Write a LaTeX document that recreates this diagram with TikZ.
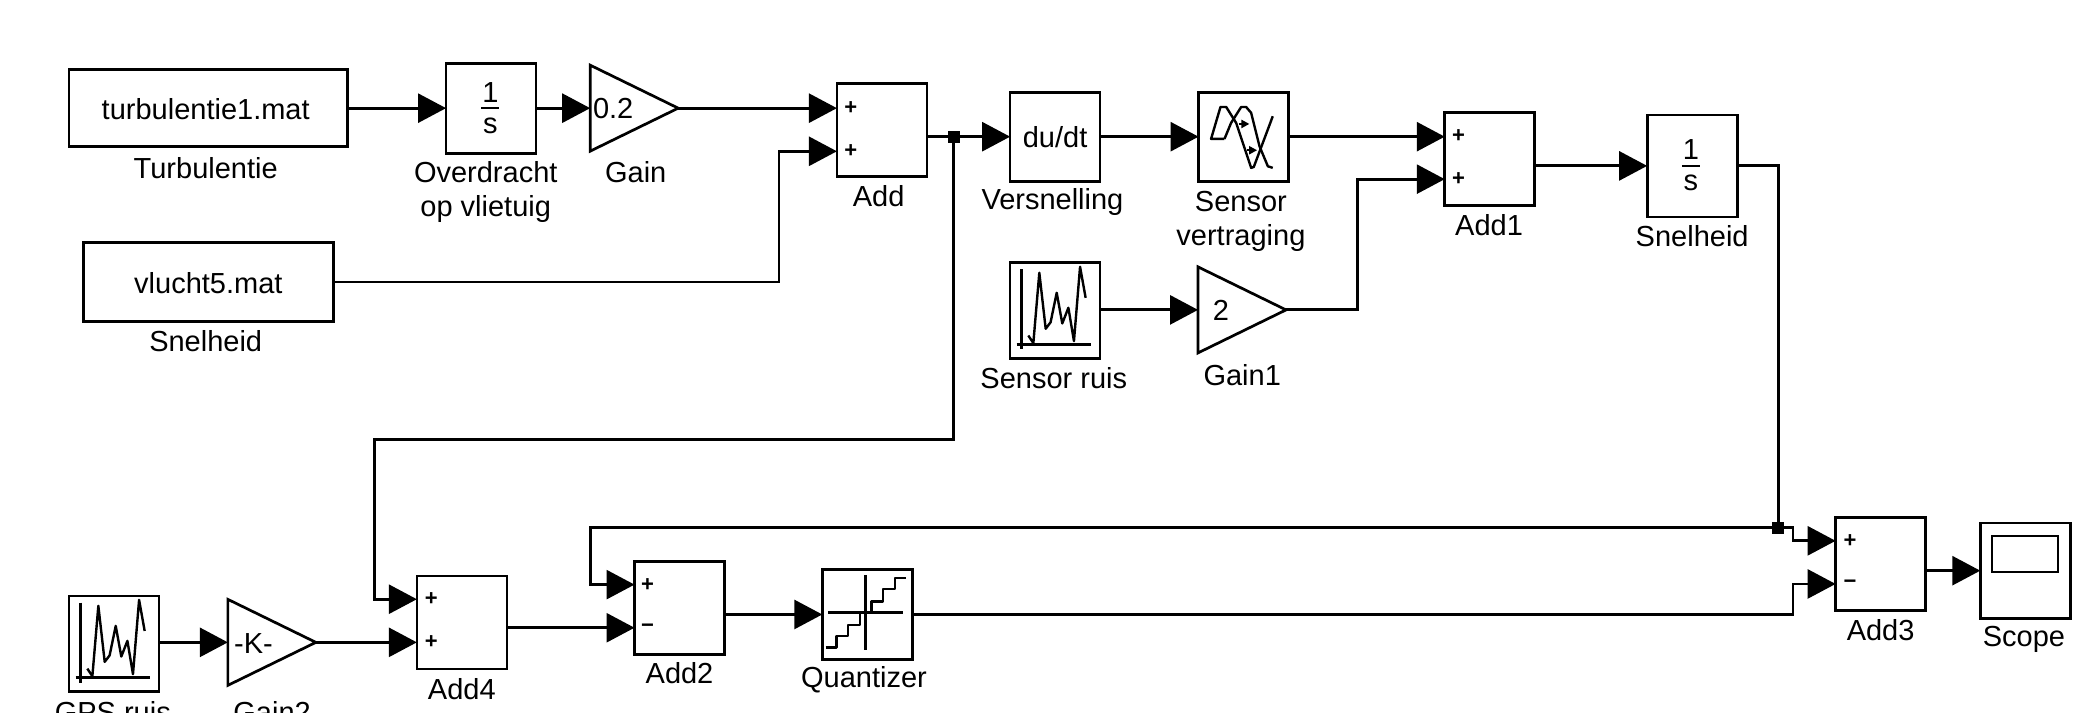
\documentclass[tikz,border=0pt]{standalone}
\usepackage{fontspec}
\setmainfont{Liberation Sans}
\usepackage{tikz}
\usetikzlibrary{arrows.meta, shapes.geometric}
\tikzset{
  block/.style={
    rectangle, draw=black, fill=white, line width=1.35pt,
    inner sep=0pt, outer sep=0pt,
    minimum width=45pt, minimum height=46.5pt
  },
  gainblock/.style={
    isosceles triangle, isosceles triangle stretches, shape border rotate=0,
    draw=black, fill=white, line width=1.35pt, inner sep=0pt, outer sep=0pt,
    minimum width=43pt, minimum height=44pt, anchor=apex
  },
  txt/.style={font=\fontsize{14.5}{17}\selectfont, inner sep=0pt},
  lbl/.style={font=\fontsize{14.5}{17}\selectfont, inner sep=0pt, align=center},
  sign/.style={font=\fontsize{11}{13}\selectfont\bfseries, inner sep=0pt},
  sig/.style={-{Triangle[length=14pt, width=14.5pt]}, draw=black, line width=1.4pt},
  wire/.style={draw=black, line width=1.4pt},
  junction/.style={rectangle, fill=black, inner sep=0pt, minimum size=6pt},
  icon/.style={draw=black, line width=1.2pt, line join=round},
  noiseicon/.pic={
    \draw[icon] (8.8,5) -- (8.8,65.3);
    \draw[icon] (5,61.6) -- (61,61.6);
    \draw[icon] (13.8,54.8) -- (17.6,60.5) -- (22.1,7.5) -- (26.9,49.7) -- (30.6,44.8)
      -- (35.2,22.6) -- (39.4,45.7) -- (44,33.9) -- (48.2,59) -- (52.8,3) -- (57,26.4);
  },
  delayicon/.pic={
    \draw[icon] (19.6,34.7) -- (9.5,34.7) -- (16.6,10.6) -- (20.9,10.6) -- (28.4,22.6)
      -- (39.7,56.5) -- (41.7,55.8) -- (56,17.6);
    \draw[icon] (19.6,34.7) -- (24.6,22.6) -- (32.2,10.6) -- (35.9,10.6) -- (39.7,15)
      -- (46,40.2) -- (52.3,55.3) -- (56,56.5);
    \draw[icon, -{Triangle[length=4pt, width=4pt]}] (30.2,23.4) -- (38.4,23.4);
    \draw[icon, -{Triangle[length=4pt, width=4pt]}] (36.4,43.2) -- (44.2,43.2);
  },
  quanticon/.pic={
    \draw[icon] (33.2,4.5) -- (33.2,60.6);
    \draw[icon] (5,32.4) -- (61.6,32.4);
    \draw[icon] (3,59) -- (11.3,59) -- (11.3,50.3) -- (20.1,50.3) -- (20.1,41.7)
      -- (28.9,41.7) -- (28.9,32.4) -- (37.7,32.4) -- (37.7,24.1) -- (46.5,24.1)
      -- (46.5,15) -- (55.3,15) -- (55.3,6.5) -- (63.6,6.5);
  },
  integicon/.pic={
    \node[txt] at (0,-12) {1};
    \node[txt] at (0,13) {s};
    \draw[icon] (-6.8,0) -- (6.8,0);
  }
}

\begin{document}
\begin{tikzpicture}[x=0.6636pt, y=-0.6636pt]
  \useasboundingbox (0,0) rectangle (1568,536.5);

  % Top row
  \node[block, minimum width=139.4pt, minimum height=38.5pt] (turb) at (157,81.5) {};
  \node[txt] (turbtxt) at (155,82) {turbulentie1.mat};
  \node[lbl] (turblbl) at (155,127) {Turbulentie};
  \node[block, minimum height=45pt] (over) at (370,81.5) {};
  \pic at (369.5,81.5) {integicon};
  \node[lbl] (overlbl) at (366,145) {Overdracht\\op vlietuig};
  \node[gainblock] (gain) at (511,81.5) {};
  \node[txt] (gaintxt) at (462,82) {0.2};
  \node[lbl] (gainlbl) at (479,130) {Gain};

  \node[block] (add) at (664.5,98) {};
  \node[sign] (adda) at (641,81.5) {+};
  \node[sign] (addb) at (641,114) {+};
  \node[lbl] (addlbl) at (662,148) {Add};

  \node[block, minimum width=124.8pt, minimum height=39.2pt] (vlucht) at (157,212.5) {};
  \node[txt] (vluchttxt) at (157,213) {vlucht5.mat};
  \node[lbl] (vluchtlbl) at (155,257) {Snelheid};

  \node[block, minimum height=44.5pt] (dudt) at (795,103) {};
  \node[txt] (dudttxt) at (795,103) {du/dt};
  \node[lbl] (dudtlbl) at (793,152) {Versnelling};
  \node[block, minimum height=44.5pt] (delay) at (937,103) {};
  \pic at (903,70) {delayicon};
  \node[lbl] (delaylbl) at (935,167) {Sensor\\vertraging};

  \node[block] (addone) at (1122.5,120) {};
  \node[sign] (addonea) at (1099,102.5) {+};
  \node[sign] (addoneb) at (1099,135) {+};
  \node[lbl] (addonelbl) at (1122,170) {Add1};

  \node[block, minimum height=51pt] (integ) at (1275,125) {};
  \pic at (1274,125) {integicon};
  \node[lbl] (integlbl) at (1275,178) {Snelheid};

  % Sensor noise
  \node[block, minimum height=47.8pt] (sruis) at (795,234) {};
  \pic at (761,198) {noiseicon};
  \node[lbl] (sruislbl) at (794,285) {Sensor ruis};
  \node[gainblock] (gainone) at (969,233.5) {};
  \node[txt] (gainonetxt) at (920,234) {2};
  \node[lbl] (gainonelbl) at (936,283) {Gain1};

  % Bottom row
  \node[block, minimum height=47.8pt] (gps) at (86,485) {};
  \pic at (52,449) {noiseicon};
  \node[lbl] (gpslbl) at (85,536.5) {GPS ruis};
  \node[gainblock] (gaintwo) at (238,484) {};
  \node[txt] (gaintwotxt) at (191,485) {-K-};
  \node[lbl] (gaintwolbl) at (205,536.5) {Gain2};

  \node[block] (addfour) at (348,469) {};
  \node[sign] (addfoura) at (325,451.5) {+};
  \node[sign] (addfourb) at (325,484) {+};
  \node[lbl] (addfourlbl) at (348,519) {Add4};

  \node[block] (addtwo) at (512,458) {};
  \node[sign] (addtwoa) at (488,440.5) {+};
  \node[sign] (addtwob) at (488,473) {−};
  \node[lbl] (addtwolbl) at (512,507) {Add2};

  \node[block, minimum height=45pt] (quant) at (653.5,463) {};
  \pic at (619,429) {quanticon};
  \node[lbl] (quantlbl) at (651,512) {Quantizer};

  \node[block] (addthree) at (1417,425) {};
  \node[sign] (addthreea) at (1394,407.5) {+};
  \node[sign] (addthreeb) at (1394,440) {−};
  \node[lbl] (addthreelbl) at (1417,475) {Add3};

  \node[block, minimum height=47.8pt] (scope) at (1526,430) {};
  \node[block, minimum width=33pt, minimum height=18pt, line width=1.2pt] (screen) at (1526,417.5) {};
  \node[lbl] (scopelbl) at (1525,482) {Scope};

  % Junctions
  \node[junction] (jadd) at (718.5,103) {};
  \node[junction] (jinteg) at (1340,397.5) {};

  % Arrows
  \draw[sig] (turb.east)  -- (over.west);
  \draw[sig] (over.east)  -- (gain.lower side);
  \draw[sig] (gain.apex)  -- (add.west |- adda);
  \draw[sig] (vlucht.east) -- (587,212.5) |- (add.west |- addb);
  \draw[sig] (add.east |- dudt.west) -- (dudt.west);
  \draw[sig] (dudt.east)  -- (delay.west);
  \draw[sig] (delay.east) -- (addone.west |- delay.east);
  \draw[sig] (addone.east |- integ.west) -- (integ.west);
  \draw[sig] (sruis.east |- gainone.lower side) -- (gainone.lower side);
  \draw[sig] (gainone.apex) -- (1023,233.5) |- (addone.west |- addoneb);
  \draw[sig] (jadd.center) -- (718.5,331) -- (282,331) |- (addfour.west |- addfoura);
  \draw[sig] (gps.east |- gaintwo.lower side) -- (gaintwo.lower side);
  \draw[sig] (gaintwo.apex) -- (addfour.west |- addfourb);
  \draw[sig] (addfour.east |- addtwob) -- (addtwo.west |- addtwob);
  \draw[sig] (addtwo.east |- quant.west) -- (quant.west);
  \draw[wire] (integ.east) -- (1340,125) -- (jinteg.center);
  \draw[sig] (jinteg.center) -- (445,397.5) |- (addtwo.west |- addtwoa);
  \draw[sig] (jinteg.center) -- (1351,397.5) |- (addthree.west |- addthreea);
  \draw[sig] (quant.east) -- (1351,463) |- (addthree.west |- addthreeb);
  \draw[sig] (addthree.east |- scope.west) -- (scope.west);
\end{tikzpicture}
\end{document}
